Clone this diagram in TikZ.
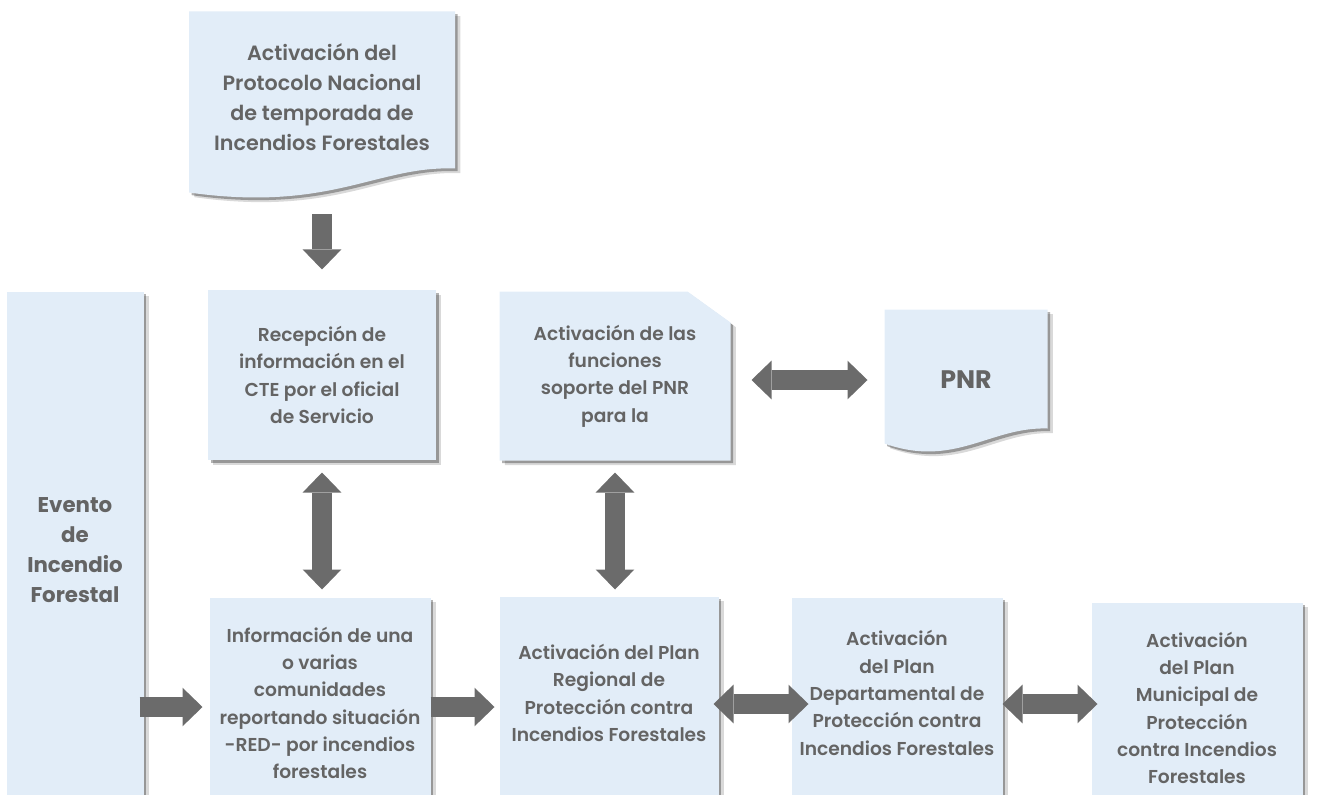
\documentclass[tikz,border=0pt]{standalone}
\usepackage{fontspec}
\setmainfont{Poppins}[UprightFont=* SemiBold, BoldFont=* Bold]
\usetikzlibrary{arrows.meta,shadows,backgrounds,calc}

\definecolor{boxblue}{RGB}{226,237,248}
\definecolor{arrowgray}{RGB}{107,107,107}
\definecolor{textgray}{RGB}{100,100,100}

\tikzset{every picture/.style={line width=0.75pt}}
\tikzset{
  boxshadow/.style={drop shadow={shadow xshift=4pt, shadow yshift=-3.5pt, opacity=0.15, fill=black},
                    drop shadow={shadow xshift=2pt, shadow yshift=-2pt, opacity=0.3, fill=black}},
  boxtext/.style={align=center, text=textgray, inner sep=0pt, font=\fontsize{14}{20.5}\selectfont},
  plainbox/.style={boxtext, fill=boxblue, boxshadow},
  fattip/.tip={Triangle[length=15pt, width=29pt, line width=0pt]},
  fatarrow/.style={draw=arrowgray, line width=14.5pt, -fattip},
  fatboth/.style={draw=arrowgray, line width=14.5pt, fattip-fattip},
}

\begin{document}
\begin{tikzpicture}[x=0.75pt,y=0.75pt,yscale=-1,xscale=1]
	\useasboundingbox (0,0) rectangle (1318,795);

	% Text Nodes
	\node[boxtext, minimum width=198.75pt, minimum height=127.5pt, font=\fontsize{15.5}{22.5}\selectfont] (proto) at (322,97)
		{Activación del\\Protocolo Nacional\\de temporada de\\Incendios Forestales};
	\node[plainbox, minimum width=171pt, minimum height=127.5pt] (rec) at (322,375)
		{Recepción de\\información en el\\CTE por el oficial\\de Servicio};
	\node[boxtext, minimum width=172.5pt, minimum height=126pt] (fun) at (615,376)
		{Activación de las\\funciones\\soporte del PNR\\para la};
	\node[boxtext, minimum width=121.5pt, minimum height=105pt, font=\fontsize{19}{20.5}\selectfont\bfseries] (pnr) at (966,380) {PNR};
	\node[boxtext, minimum width=102pt, minimum height=387pt, font=\fontsize{16}{22.5}\selectfont\bfseries] (evento) at (75,550)
		{Evento\\de\\Incendio\\Forestal};
	\node[boxtext, minimum width=165pt, minimum height=157.5pt] (info) at (320,703)
		{Información de una\\o varias\\comunidades\\reportando situación\\-RED- por incendios\\forestales};
	\node[boxtext, minimum width=163.5pt, minimum height=144pt] (reg) at (609,693)
		{Activación del Plan\\Regional de\\Protección contra\\Incendios Forestales};
	\node[boxtext, minimum width=157.5pt, minimum height=142.5pt] (dep) at (897,693)
		{Activación\\del Plan\\Departamental de\\Protección contra\\Incendios Forestales};
	\node[boxtext, minimum width=157.5pt, minimum height=157.5pt] (mun) at (1197,708)
		{Activación\\del Plan\\Municipal de\\Protección\\contra Incendios\\Forestales};

	\coordinate (bot) at (0,815);
	\coordinate (row) at (0,707);
	\coordinate (row2) at (0,704);

	% Shapes behind the texts
	\begin{scope}[on background layer]
		\fill[boxblue, boxshadow] (proto.north west) -- (proto.north east) -- ($(proto.south east)+(0,-14)$)
			.. controls +(-78,-3) and +(142,20) .. ($(proto.south west)+(0,10)$) -- cycle;
		\fill[boxblue, boxshadow] (fun.north west) -- ($(fun.north east)+(-43,0)$) -- ($(fun.north east)+(0,31)$)
			-- (fun.south east) -- (fun.south west) -- cycle;
		\fill[boxblue, boxshadow] (pnr.north west) -- (pnr.north east) -- ($(pnr.south east)+(0,-22)$)
			.. controls +(-57,-2) and +(70,25) .. ($(pnr.south west)+(0,-7)$) -- cycle;
		\fill[boxblue, boxshadow] (evento.north west) rectangle (evento.east |- bot);
		\fill[boxblue, boxshadow] (info.north west) rectangle (info.east |- bot);
		\fill[boxblue, boxshadow] (reg.north west) rectangle (reg.east |- bot);
		\fill[boxblue, boxshadow] (dep.north west) rectangle (dep.east |- bot);
		\fill[boxblue, boxshadow] (mun.north west) rectangle (mun.east |- bot);
	\end{scope}

	% Block arrows
	\draw[fatarrow, shorten <=24pt, shorten >=15pt] (proto.south) -- (rec.north);
	\draw[fatboth, shorten <=9pt, shorten >=6pt] (rec.south) -- (rec.south |- info.north);
	\draw[fatboth, shorten <=9pt, shorten >=5.25pt] (fun.south) -- (fun.south |- reg.north);
	\draw[fatboth, shorten <=15.75pt, shorten >=12.75pt] (fun.east |- pnr.west) -- (pnr.west);
	\draw[fatarrow, shorten <=-3pt, shorten >=5.25pt] (evento.east |- row) -- (info.west |- row);
	\draw[fatarrow, shorten >=3.75pt] (info.east |- row) -- (reg.west |- row);
	\draw[fatboth, shorten <=-3.75pt, shorten >=-12.75pt] (reg.east |- row2) -- (dep.west |- row2);
	\draw[fatboth, shorten >=-4.5pt] (dep.east |- row2) -- (mun.west |- row2);

\end{tikzpicture}
\end{document}
